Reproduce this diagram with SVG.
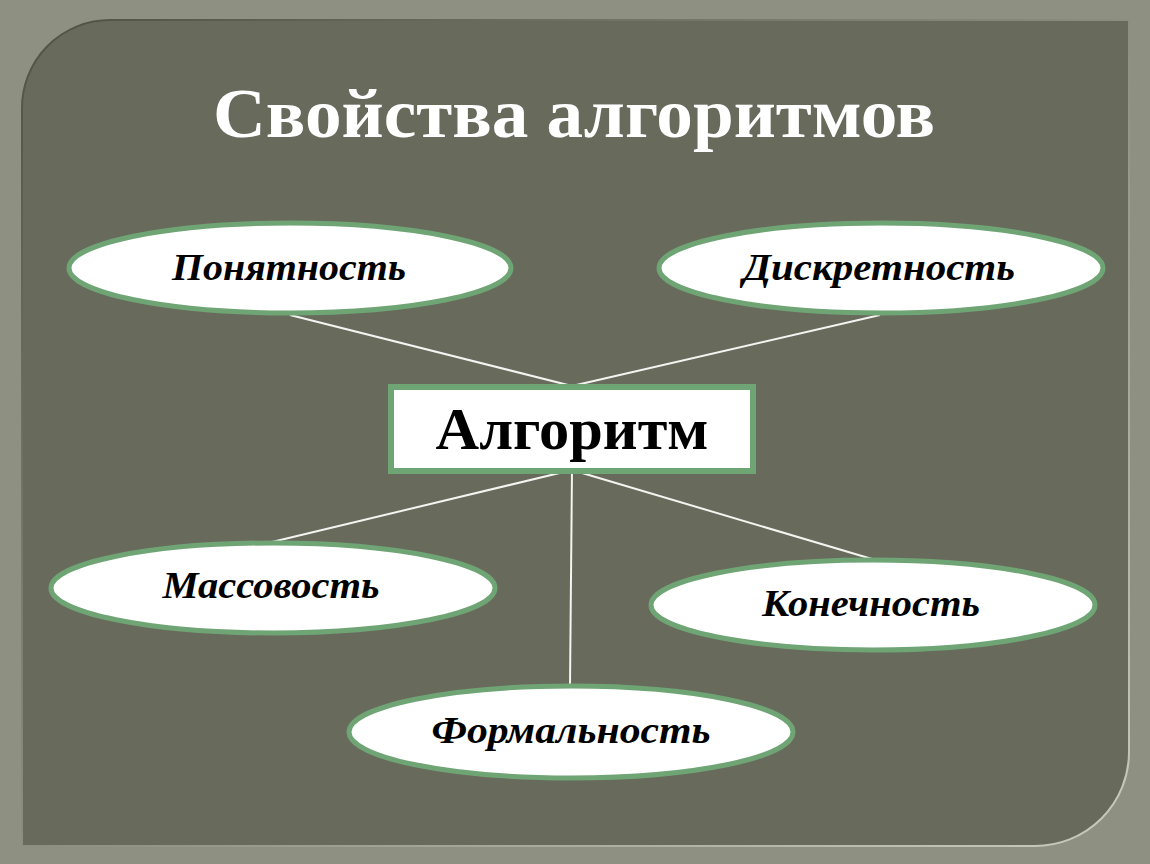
<svg xmlns="http://www.w3.org/2000/svg" width="1150" height="864" viewBox="0 0 1150 864">
<defs>
<style>
.node ellipse{fill:#fff;stroke:#6fa474;stroke-width:5}
.node rect{fill:#fff;stroke:#6fa474;stroke-width:6}
.lbl{font-family:"Liberation Serif","DejaVu Serif",serif;font-weight:bold;font-style:italic;font-size:38px;fill:#000;text-anchor:middle}
.conn line{stroke:#f4f4f0;stroke-width:2}
</style>
<linearGradient id="edge" x1="0" y1="0" x2="1" y2="1">
<stop offset="0" stop-color="#4f5145"/>
<stop offset="1" stop-color="#c9ccbb"/>
</linearGradient>
</defs>
<rect x="0" y="0" width="1150" height="864" fill="#8e9181"/>
<path d="M22,110 A88,88 0 0 1 110,20 H1129 V752 A94,94 0 0 1 1035,846 H22 Z" fill="#686a5c" stroke="url(#edge)" stroke-width="2"/>
<text x="574" y="137" font-family="Liberation Serif, DejaVu Serif, serif" font-weight="bold" font-size="70" fill="#fff" text-anchor="middle" textLength="722" lengthAdjust="spacingAndGlyphs">Свойства алгоритмов</text>
<g id="connectors" class="conn">
<line x1="290" y1="315" x2="572" y2="386"/>
<line x1="880" y1="315" x2="572" y2="386"/>
<line x1="572" y1="470" x2="272" y2="542"/>
<line x1="572" y1="470" x2="872" y2="559"/>
<line x1="572" y1="470" x2="570" y2="686"/>
</g>
<g id="node-ponyatnost" class="node">
<ellipse cx="290" cy="268" rx="221" ry="45"/>
<text class="lbl" x="289" y="280" textLength="234" lengthAdjust="spacingAndGlyphs">Понятность</text>
</g>
<g id="node-diskretnost" class="node">
<ellipse cx="881" cy="268" rx="222" ry="45"/>
<text class="lbl" x="879" y="280" textLength="272" lengthAdjust="spacingAndGlyphs">Дискретность</text>
</g>
<g id="node-algoritm" class="node">
<rect x="391" y="387" width="362" height="84"/>
<text x="572" y="449" font-family="Liberation Serif, DejaVu Serif, serif" font-weight="bold" font-size="60" text-anchor="middle" textLength="273" lengthAdjust="spacingAndGlyphs">Алгоритм</text>
</g>
<g id="node-massovost" class="node">
<ellipse cx="273" cy="588" rx="222" ry="45"/>
<text class="lbl" x="271" y="598" textLength="217" lengthAdjust="spacingAndGlyphs">Массовость</text>
</g>
<g id="node-konechnost" class="node">
<ellipse cx="873" cy="605" rx="222" ry="45"/>
<text class="lbl" x="871" y="616" textLength="218" lengthAdjust="spacingAndGlyphs">Конечность</text>
</g>
<g id="node-formalnost" class="node">
<ellipse cx="571" cy="732" rx="222" ry="46"/>
<text class="lbl" x="571" y="743" textLength="279" lengthAdjust="spacingAndGlyphs">Формальность</text>
</g>
</svg>
